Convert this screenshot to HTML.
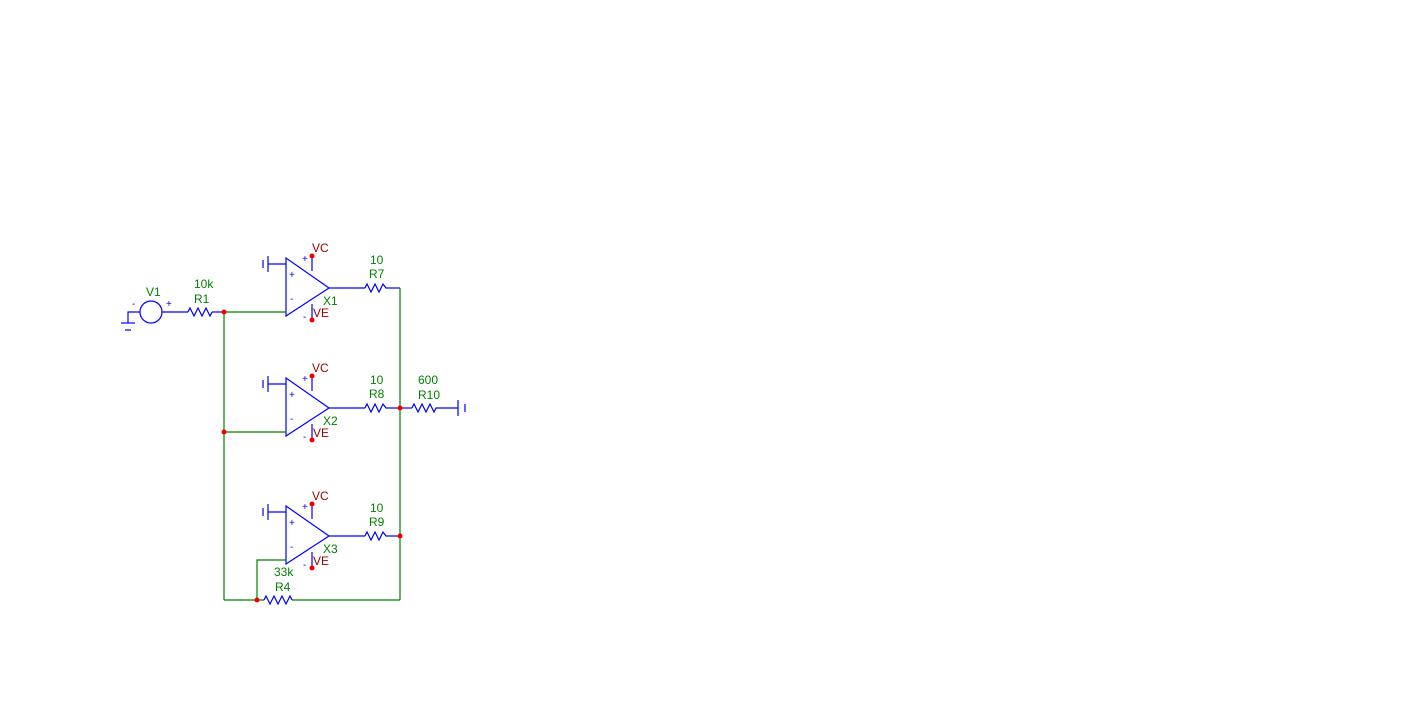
<!DOCTYPE html>
<html><head><meta charset="utf-8"><style>
html,body{margin:0;padding:0;background:#fff;}
svg{display:block;}
text{font-family:"Liberation Sans",sans-serif;font-size:12px;}
.b{stroke:#0000ff;fill:none;stroke-width:1.2}
.g{stroke:#008000;fill:none;stroke-width:1.2}
.gt{fill:#008000}
.rt{fill:#990000}
.d{fill:#ee0000}
.s{fill:#0000ff;font-size:10px}
</style></head><body>
<svg width="1420" height="722" viewBox="0 0 1420 722">
<defs>
<g id="oa">
  <polygon class="b" points="286,-30 286,28 329,0"/>
  <line class="b" x1="268" y1="-24" x2="286" y2="-24"/>
  <line class="b" x1="268" y1="-32" x2="268" y2="-16"/>
  <line class="b" x1="263" y1="-28" x2="263" y2="-20"/>
  <line class="b" x1="312" y1="-32" x2="312" y2="-17"/>
  <line class="b" x1="312" y1="16" x2="312" y2="32"/>
  <circle class="d" cx="312" cy="-32" r="2.5"/>
  <circle class="d" cx="312" cy="32" r="2.5"/>
  <text class="rt" x="312" y="-36">VC</text>
  <text class="rt" x="313" y="29">VE</text>
  <text class="s" x="302" y="-26">+</text>
  <text class="s" x="289" y="-10">+</text>
  <text class="s" x="290" y="14">-</text>
  <text class="s" x="303" y="32">-</text>
  <line class="b" x1="329" y1="0" x2="365" y2="0"/>
  <polyline class="b" points="365,0 367,-4 371,4 375,-4 379,4 383,-4 386,0 388,0"/>
  <line class="b" x1="388" y1="0" x2="400" y2="0"/>
</g>
</defs>
<use href="#oa" transform="translate(0,288)"/>
<use href="#oa" transform="translate(0,408)"/>
<use href="#oa" transform="translate(0,536)"/>
<text class="gt" x="323" y="305">X1</text>
<text class="gt" x="323" y="425">X2</text>
<text class="gt" x="323" y="553">X3</text>
<text class="gt" x="370" y="264">10</text><text class="gt" x="369" y="278">R7</text>
<text class="gt" x="370" y="384">10</text><text class="gt" x="369" y="398">R8</text>
<text class="gt" x="370" y="512">10</text><text class="gt" x="369" y="526">R9</text>
<!-- V1 -->
<circle class="b" cx="151" cy="312" r="11"/>
<polyline class="b" points="140,312 128,312 128,323"/>
<line class="b" x1="121" y1="323" x2="135" y2="323"/>
<line class="b" x1="125" y1="330" x2="131" y2="330"/>
<text class="gt" x="146" y="296">V1</text>
<text class="s" x="132" y="307">-</text><text class="s" x="166" y="307">+</text>
<line class="b" x1="162" y1="312" x2="188" y2="312"/>
<polyline class="b" points="188,312 190,308 194,316 198,308 202,316 206,308 210,316 212,312"/>
<line class="b" x1="212" y1="312" x2="224" y2="312"/>
<text class="gt" x="194" y="288">10k</text><text class="gt" x="194" y="303">R1</text>
<!-- green wires -->
<polyline class="g" points="224,312 286,312"/>
<line class="g" x1="224" y1="312" x2="224" y2="600"/>
<line class="g" x1="224" y1="432" x2="286" y2="432"/>
<polyline class="g" points="286,560 257,560 257,600"/>
<line class="g" x1="224" y1="600" x2="264" y2="600"/>
<line class="g" x1="292" y1="600" x2="400" y2="600"/>
<line class="g" x1="400" y1="288" x2="400" y2="600"/>
<polyline class="b" points="264,600 266,596 270,604 274,596 278,604 282,596 286,604 290,596 292,600"/>
<text class="gt" x="274" y="576">33k</text><text class="gt" x="275" y="591">R4</text>
<!-- R10 -->
<line class="b" x1="400" y1="408" x2="412" y2="408"/>
<polyline class="b" points="412,408 414,404 418,412 422,404 426,412 430,404 434,412 436,408 438,408"/>
<line class="b" x1="438" y1="408" x2="458" y2="408"/>
<line class="b" x1="458" y1="400" x2="458" y2="416"/>
<line class="b" x1="465" y1="404" x2="465" y2="412"/>
<text class="gt" x="418" y="384">600</text><text class="gt" x="418" y="399">R10</text>
<circle class="d" cx="224" cy="312" r="2.5"/>
<circle class="d" cx="224" cy="432" r="2.5"/>
<circle class="d" cx="400" cy="408" r="2.5"/>
<circle class="d" cx="400" cy="536" r="2.5"/>
<circle class="d" cx="257" cy="600" r="2.5"/>
</svg>
</body></html>
